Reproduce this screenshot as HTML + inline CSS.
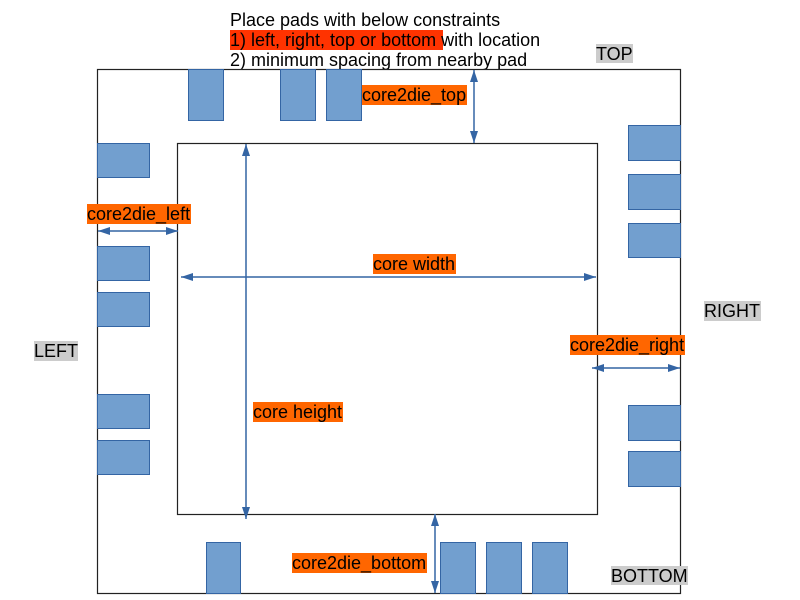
<!DOCTYPE html>
<html><head><meta charset="utf-8"><style>
html,body{margin:0;padding:0;background:#fff;width:800px;height:600px;overflow:hidden}
svg{display:block}
text{font-family:"Liberation Sans",Arial,sans-serif;font-size:18px;fill:#000}
</style></head><body>
<svg width="800" height="600" viewBox="0 0 800 600" xmlns="http://www.w3.org/2000/svg">
<defs>
<marker id="ah" viewBox="0 0 12 8" refX="12" refY="4" markerWidth="12" markerHeight="8" markerUnits="userSpaceOnUse" orient="auto-start-reverse">
<path d="M0,0 L12,4 L0,8 z" fill="#3465a4"/>
</marker>
</defs>
<!-- title -->
<rect x="230" y="30" width="213" height="20" fill="#ff3300"/>
<text x="230" y="26">Place pads with below constraints</text>
<text x="230" y="46">1) left, right, top or bottom with location</text>
<text x="230" y="66">2) minimum spacing from nearby pad</text>

<!-- outer die -->
<rect x="97.5" y="69.5" width="583" height="524" fill="none" stroke="#222" stroke-width="1.2"/>
<!-- core -->
<rect x="177.5" y="143.5" width="420" height="371" fill="none" stroke="#222" stroke-width="1.2"/>

<g fill="#729fcf" stroke="#3465a4" stroke-width="1">
<!-- top pads -->
<rect x="188.5" y="69.5" width="35" height="51"/>
<rect x="280.5" y="69.5" width="35" height="51"/>
<rect x="326.5" y="69.5" width="35" height="51"/>
<!-- left pads -->
<rect x="97.5" y="143.5" width="52" height="34"/>
<rect x="97.5" y="246.5" width="52" height="34"/>
<rect x="97.5" y="292.5" width="52" height="34"/>
<rect x="97.5" y="394.5" width="52" height="34"/>
<rect x="97.5" y="440.5" width="52" height="34"/>
<!-- right pads -->
<rect x="628.5" y="125.5" width="52" height="35"/>
<rect x="628.5" y="174.5" width="52" height="35"/>
<rect x="628.5" y="223.5" width="52" height="34"/>
<rect x="628.5" y="405.5" width="52" height="35"/>
<rect x="628.5" y="451.5" width="52" height="35"/>
<!-- bottom pads -->
<rect x="206.5" y="542.5" width="34" height="51"/>
<rect x="440.5" y="542.5" width="35" height="51"/>
<rect x="486.5" y="542.5" width="35" height="51"/>
<rect x="532.5" y="542.5" width="35" height="51"/>
</g>

<g stroke="#3465a4" stroke-width="1.5" fill="none">
<line x1="474" y1="70" x2="474" y2="143" marker-start="url(#ah)" marker-end="url(#ah)"/>
<line x1="98" y1="231" x2="178" y2="231" marker-start="url(#ah)" marker-end="url(#ah)"/>
<line x1="181" y1="277" x2="596" y2="277" marker-start="url(#ah)" marker-end="url(#ah)"/>
<line x1="246" y1="144" x2="246" y2="519" marker-start="url(#ah)" marker-end="url(#ah)"/>
<line x1="592" y1="368" x2="680" y2="368" marker-start="url(#ah)" marker-end="url(#ah)"/>
<line x1="435" y1="514" x2="435" y2="593" marker-start="url(#ah)" marker-end="url(#ah)"/>
</g>

<!-- labels -->
<rect x="362" y="85" width="105" height="20" fill="#ff6600"/>
<text x="362" y="101">core2die_top</text>
<rect x="87" y="204" width="104" height="20" fill="#ff6600"/>
<text x="87" y="220">core2die_left</text>
<rect x="373" y="254" width="83" height="20" fill="#ff6600"/>
<text x="373" y="270">core width</text>
<rect x="253" y="402" width="90" height="20" fill="#ff6600"/>
<text x="253" y="418">core height</text>
<rect x="570" y="335" width="115" height="20" fill="#ff6600"/>
<text x="570" y="351">core2die_right</text>
<rect x="292" y="553" width="135" height="20" fill="#ff6600"/>
<text x="292" y="569">core2die_bottom</text>

<rect x="596" y="44" width="37" height="19" fill="#cccccc"/>
<text x="596" y="60">TOP</text>
<rect x="34" y="341" width="44" height="20" fill="#cccccc"/>
<text x="34" y="357">LEFT</text>
<rect x="704" y="301" width="57" height="20" fill="#cccccc"/>
<text x="704" y="317">RIGHT</text>
<rect x="611" y="566" width="77" height="19" fill="#cccccc"/>
<text x="611" y="582">BOTTOM</text>
</svg>
</body></html>
